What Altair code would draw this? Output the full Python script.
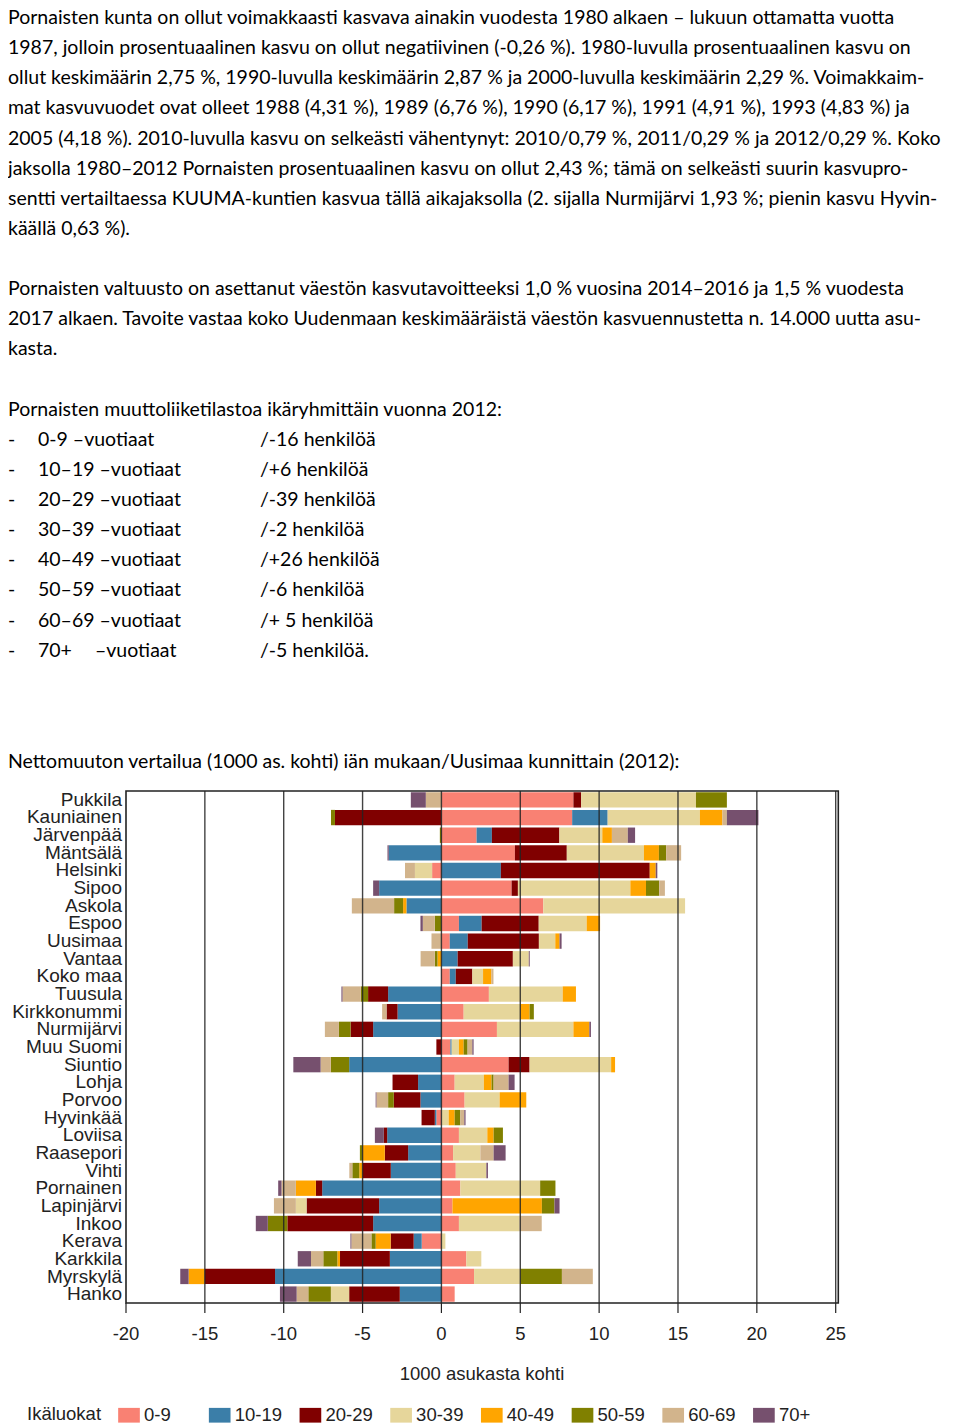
import altair as alt
import pandas as pd

# ---------------- document text ----------------
para1 = [
    "Pornaisten kunta on ollut voimakkaasti kasvava ainakin vuodesta 1980 alkaen – lukuun ottamatta vuotta",
    "1987, jolloin prosentuaalinen kasvu on ollut negatiivinen (-0,26 %). 1980-luvulla prosentuaalinen kasvu on",
    "ollut keskimäärin 2,75 %, 1990-luvulla keskimäärin 2,87 % ja 2000-luvulla keskimäärin 2,29 %. Voimakkaim-",
    "mat kasvuvuodet ovat olleet 1988 (4,31 %), 1989 (6,76 %), 1990 (6,17 %), 1991 (4,91 %), 1993 (4,83 %) ja",
    "2005 (4,18 %). 2010-luvulla kasvu on selkeästi vähentynyt: 2010/0,79 %, 2011/0,29 % ja 2012/0,29 %. Koko",
    "jaksolla 1980–2012 Pornaisten prosentuaalinen kasvu on ollut 2,43 %; tämä on selkeästi suurin kasvupro-",
    "sentti vertailtaessa KUUMA-kuntien kasvua tällä aikajaksolla (2. sijalla Nurmijärvi 1,93 %; pienin kasvu Hyvin-",
    "käällä 0,63 %).",
]
para2 = [
    "Pornaisten valtuusto on asettanut väestön kasvutavoitteeksi 1,0 % vuosina 2014–2016 ja 1,5 % vuodesta",
    "2017 alkaen. Tavoite vastaa koko Uudenmaan keskimääräistä väestön kasvuennustetta n. 14.000 uutta asu-",
    "kasta.",
]
list_title = "Pornaisten muuttoliiketilastoa ikäryhmittäin vuonna 2012:"
list_ages = ["0-9 –vuotiaat", "10–19 –vuotiaat", "20–29 –vuotiaat", "30–39 –vuotiaat",
             "40–49 –vuotiaat", "50–59 –vuotiaat", "60–69 –vuotiaat", "70+"]
list_counts = ["/-16 henkilöä", "/+6 henkilöä", "/-39 henkilöä", "/-2 henkilöä",
               "/+26 henkilöä", "/-6 henkilöä", "/+ 5 henkilöä", "/-5 henkilöä."]
chart_heading = "Nettomuuton vertailua (1000 as. kohti) iän mukaan/Uusimaa kunnittain (2012):"

# ---------------- chart data ----------------
age_groups = ["0-9", "10-19", "20-29", "30-39", "40-49", "50-59", "60-69", "70+"]
age_colors = ["#F98173", "#3B7EA8", "#800000", "#E6D69B", "#FFA500", "#808000", "#D2B48C", "#76506E"]
kunnat = ["Pukkila", "Kauniainen", "Järvenpää", "Mäntsälä", "Helsinki", "Sipoo", "Askola", "Espoo",
          "Uusimaa", "Vantaa", "Koko maa", "Tuusula", "Kirkkonummi", "Nurmijärvi", "Muu Suomi",
          "Siuntio", "Lohja", "Porvoo", "Hyvinkää", "Loviisa", "Raasepori", "Vihti", "Pornainen",
          "Lapinjärvi", "Inkoo", "Kerava", "Karkkila", "Myrskylä", "Hanko"]

v_0_9 = [8.37, 8.29, 2.23, 4.66, -0.59, 4.45, 6.46, 1.11, 0.53, 0, 0.53, 3.01, 1.41, 3.52, 0.57,
         4.26, 0.84, 1.47, -0.32, 1.11, 0.74, 0.91, 1.2, 0.7, 1.11, -1.25, 1.58, 2.07, 0.84]
v_10_19 = [0, 2.25, 0.97, -3.34, 3.77, -3.95, -2.22, 1.44, 1.14, 1.03, 0.38, -3.38, -2.78, -4.33, 0.08,
           -5.85, -1.48, -1.33, -0.1, -3.44, -2.11, -3.21, -7.56, -3.95, -4.33, -0.51, -3.27, -10.55, -2.64]
v_20_29 = [0.49, -6.75, 4.28, 3.29, 9.44, 0.4, 0, 3.62, 4.51, 3.5, 1.05, -1.27, -0.7, -1.43, -0.32,
           1.33, -1.62, -1.69, -0.84, -0.21, -1.48, -1.79, -0.4, -4.6, -5.44, -1.46, -3.16, -4.47, -3.21]
v_30_39 = [7.28, 5.85, 2.72, 4.89, -1.09, 7.13, 8.99, 3.04, 1.04, 1.01, 0.68, 4.68, 3.59, 4.85, 0.46,
           5.17, 1.85, 2.22, 0.46, 1.8, 1.73, 1.94, 5.06, -0.68, 3.84, 0.25, 0.95, 2.93, -1.16]
v_40_49 = [0, 1.43, 0.61, 0.95, 0.38, 0.99, -0.21, 0.85, 0.27, -0.25, 0.53, 0.84, 0.59, 1.01, 0.3,
           0.25, 0.49, 1.69, 0.38, 0.4, -1.41, -0.21, -1.27, 5.67, 0, -0.95, -0.17, -1.01, 0]
v_50_59 = [1.96, -0.25, -0.1, 0.46, 0, 0.84, -0.57, -0.42, 0, -0.17, 0, -0.46, 0.27, -0.74, 0.25,
           -1.16, 0.13, -0.36, 0.36, 0.59, -0.17, -0.44, 0.97, 0.8, -1.24, -0.27, -0.89, 2.64, -1.43]
v_60_69 = [-0.99, 0.28, 1.01, 0.95, -0.63, 0.36, -2.68, -0.76, -0.63, -0.9, 0.13, -1.16, -0.28, -0.89, 0.3,
           -0.65, 0.95, -0.74, 0.25, 0, 0.84, -0.19, -0.91, -1.39, 1.41, -1.27, -0.78, 1.96, -0.74]
v_70 = [-0.95, 2.0, 0.46, -0.08, 0.1, -0.38, 0, -0.15, 0.13, 0.06, 0, -0.07, 0, 0.1, 0.08,
        -1.73, 0.38, -0.05, 0.08, -0.57, 0.76, 0.1, -0.21, 0.32, -0.76, -0.06, -0.84, -0.53, -1.06]

x_ticks = [-20, -15, -10, -5, 0, 5, 10, 15, 20, 25]
x_title = "1000 asukasta kohti"
legend_title = "Ikäluokat"

# ---------------- tables ----------------
series = [v_0_9, v_10_19, v_20_29, v_30_39, v_40_49, v_50_59, v_60_69, v_70]
rows = []
for gi, (g, vals) in enumerate(zip(age_groups, series)):
    for k, v in zip(kunnat, vals):
        rows.append({"kunta": k, "ika": g, "ord": gi, "arvo": v})
bars_df = pd.DataFrame(rows)

para_df = pd.DataFrame(
    [{"line": i, "txt": t} for i, t in enumerate(para1)]
    + [{"line": 9 + i, "txt": t} for i, t in enumerate(para2)]
    + [{"line": 13, "txt": list_title}]
    + [{"line": 24.68, "txt": chart_heading}]
)
list_df = pd.DataFrame({"line": [14 + i for i in range(len(list_ages))],
                        "age": list_ages, "count": list_counts, "dash": ["-"] * len(list_ages)})
extra_df = pd.DataFrame({"line": [21], "txt": ["–vuotiaat"]})
kunta_df = pd.DataFrame({"kunta": kunnat})
tick_df = pd.DataFrame({"t": x_ticks, "lab": [str(t) for t in x_ticks]})
grid_df = pd.DataFrame({"t": x_ticks[1:]})

# ---------------- scales ----------------
TXT_FONT = "Lato"
TXT_SIZE = 19.5
CH_FONT = "Liberation Sans"
line_scale = alt.Scale(domain=[0, 1], range=[16, 46.13])
x_scale = alt.Scale(domain=[-20, 25], range=[118, 827.7], nice=False, zero=False)
y_scale = alt.Scale(domain=kunnat, range=[783, 1295], paddingInner=0.13, paddingOuter=0.07)


def doc_text(df, field, xpos):
    return alt.Chart(df).mark_text(
        align="left", baseline="alphabetic", font=TXT_FONT, fontSize=TXT_SIZE, color="#000"
    ).encode(
        x=alt.value(xpos),
        y=alt.Y("line:Q", scale=line_scale, axis=None),
        text=f"{field}:N",
    )


paragraphs = doc_text(para_df, "txt", 0)
dashes = doc_text(list_df, "dash", 0)
ages = doc_text(list_df, "age", 30)
counts = doc_text(list_df, "count", 252)
extra = doc_text(extra_df, "txt", 87)

bars = alt.Chart(bars_df).mark_bar(strokeWidth=0).encode(
    x=alt.X("arvo:Q", stack="zero", scale=x_scale, axis=None),
    y=alt.Y("kunta:N", sort=kunnat, scale=y_scale, axis=None),
    color=alt.Color(
        "ika:N",
        scale=alt.Scale(domain=age_groups, range=age_colors),
        legend=alt.Legend(
            title=legend_title, orient="none", legendX=19, legendY=1396,
            direction="horizontal", columns=8, titleOrient="left",
            titleFont=CH_FONT, titleFontSize=18.5, titleFontWeight="normal", titleColor="#222",
            titlePadding=16, titleBaseline="middle",
            labelFont=CH_FONT, labelFontSize=18.5, labelColor="#222", labelOffset=4,
            symbolType="M-1,-0.68H1V0.68H-1Z", symbolSize=470, symbolStrokeWidth=0,
            symbolOpacity=1, gridAlign="all", columnPadding=16.7, padding=0,
        ),
    ),
    order=alt.Order("ord:Q", sort="ascending"),
)

grid = alt.Chart(grid_df).mark_rule(color="#222", strokeWidth=1.4, opacity=0.85).encode(
    x=alt.X("t:Q", scale=x_scale, axis=None),
    y=alt.value(783), y2=alt.value(1295),
)

frame = alt.Chart(kunta_df.head(1)).mark_rect(
    fillOpacity=0, stroke="#222", strokeWidth=1.6
).encode(x=alt.value(118), x2=alt.value(830.3), y=alt.value(783), y2=alt.value(1295))

ticks = alt.Chart(tick_df).mark_rule(color="#222", strokeWidth=1.2).encode(
    x=alt.X("t:Q", scale=x_scale, axis=None),
    y=alt.value(1295), y2=alt.value(1305),
)

tick_labels = alt.Chart(tick_df).mark_text(
    font=CH_FONT, fontSize=18.5, color="#222", baseline="middle", align="center"
).encode(
    x=alt.X("t:Q", scale=x_scale, axis=None),
    y=alt.value(1326),
    text="lab:N",
)

x_title_mark = alt.Chart(pd.DataFrame({"txt": [x_title]})).mark_text(
    font=CH_FONT, fontSize=18.5, color="#222", baseline="middle", align="center"
).encode(x=alt.value(474), y=alt.value(1366), text="txt:N")

y_labels = alt.Chart(kunta_df).mark_text(
    font=CH_FONT, fontSize=19, color="#222", baseline="middle", align="right"
).encode(
    x=alt.value(114),
    y=alt.Y("kunta:N", sort=kunnat, scale=y_scale, axis=None),
    text="kunta:N",
)

chart = alt.layer(
    paragraphs, dashes, ages, counts, extra,
    bars, grid, frame, ticks, tick_labels, x_title_mark, y_labels,
).resolve_scale(
    x="independent", y="independent"
).properties(
    width=944, height=1419, padding=0,
    autosize=alt.AutoSizeParams(type="none"),
).configure_view(stroke=None)

chart.save("out.html", embed_options={"renderer": "svg", "actions": False})
